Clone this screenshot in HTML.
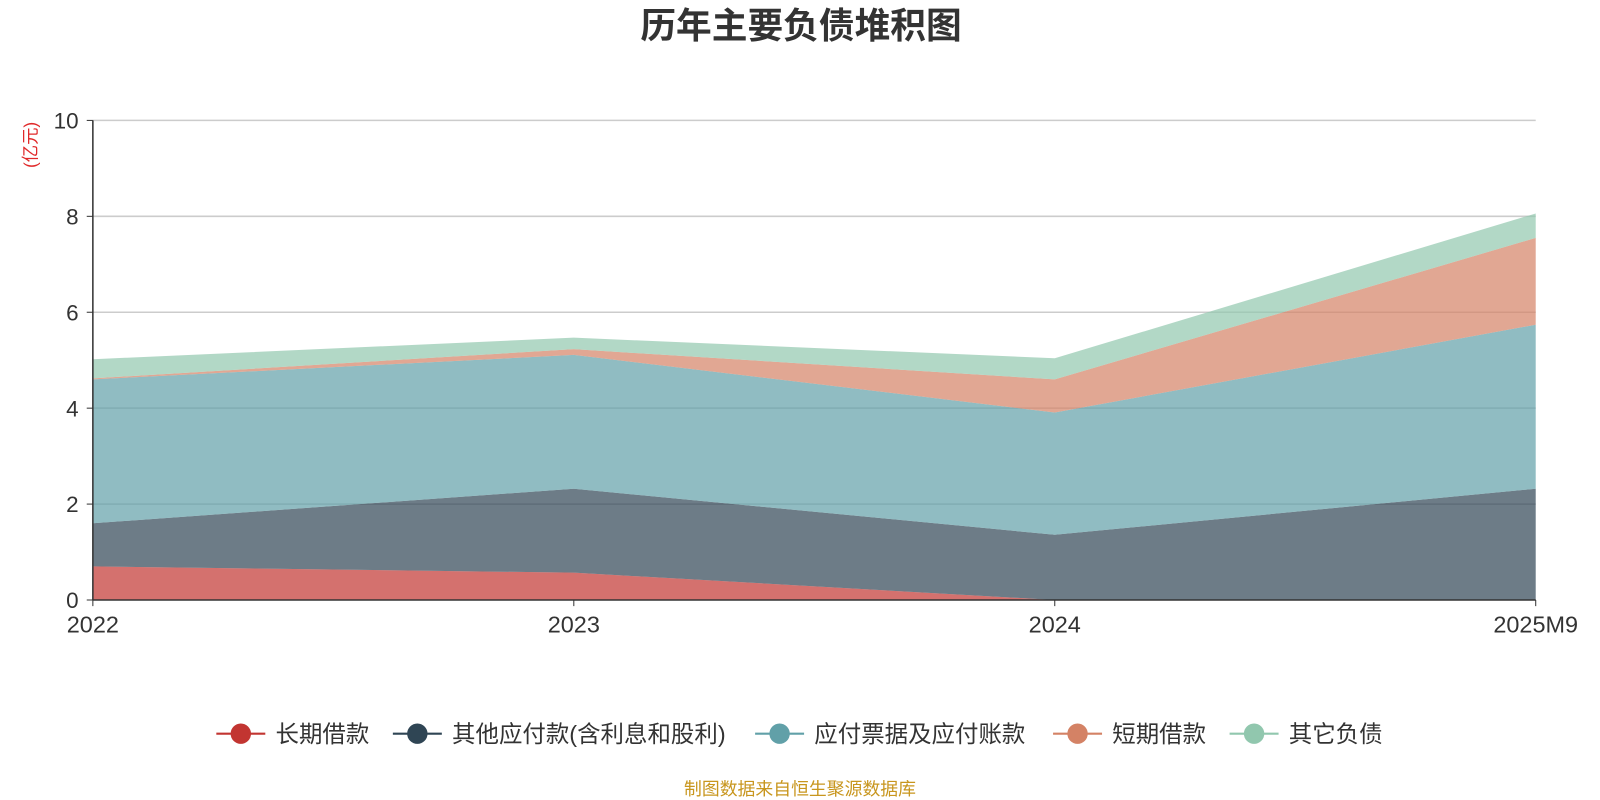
<!DOCTYPE html>
<html><head><meta charset="utf-8"><style>
html,body{margin:0;padding:0;background:#fff;overflow:hidden;font-family:"Liberation Sans","Noto Sans CJK SC",sans-serif;}
svg{display:block;}
svg text{font-family:"Liberation Sans","Noto Sans CJK SC",sans-serif;}
</style></head><body>
<svg id="c" width="1600" height="800" viewBox="0 0 1568 784" xmlns="http://www.w3.org/2000/svg">
<text x="785" y="37" text-anchor="middle" font-size="35" font-weight="bold" fill="#333">历年主要负债堆积图</text>
<text transform="translate(36,142) rotate(-90)" text-anchor="middle" font-size="17" fill="#e0292a">(亿元)</text>
<g id="grid"></g><g id="areas"></g><g id="axes"></g><g id="legend"></g>
<text x="784" y="779" text-anchor="middle" font-size="17.5" fill="#c8961e">制图数据来自恒生聚源数据库</text>
</svg>
<script>
const categories=["2022","2023","2024","2025M9"];
const seriesNames=["长期借款","其他应付款(含利息和股利)","应付票据及应付账款","短期借款","其它负债"];
const longLoan=[0.70,0.57,0,0];
const otherPayable=[0.90,1.75,1.36,2.32];
const payables=[3.00,2.79,2.55,3.42];
const shortLoan=[0.02,0.12,0.69,1.81];
const otherLiab=[0.40,0.24,0.44,0.51];
const yTicks=[0,2,4,6,8,10];
const colors=["#c23531","#2f4554","#61a0a8","#d48265","#91c7ae"];
const NS="http://www.w3.org/2000/svg";
const X0=91,X1=1505,Y0=588,Y1=118,YMAX=10;
const xs=i=>X0+(X1-X0)*i/(categories.length-1);
const ys=v=>Y0-(Y0-Y1)*v/YMAX;
function mk(t,a,p){const e=document.createElementNS(NS,t);for(const k in a)e.setAttribute(k,a[k]);p.appendChild(e);return e;}
const grid=document.getElementById('grid'),areas=document.getElementById('areas'),axes=document.getElementById('axes'),legend=document.getElementById('legend');
yTicks.forEach(t=>{
  if(t>0){const l=mk('line',{x1:X0,x2:X1,y1:ys(t),y2:ys(t),stroke:'#ccc','stroke-width':1.5},grid);
  
  }
  const tx=mk('text',{x:X0-14,y:ys(t)+8,'text-anchor':'end','font-size':22,fill:'#333'},axes);tx.textContent=t;
  
  
  mk('line',{x1:X0-6,x2:X0,y1:ys(t),y2:ys(t),stroke:'#333'},axes);
});
const all=[longLoan,otherPayable,payables,shortLoan,otherLiab];
let base=categories.map(()=>0);
all.forEach((s,k)=>{
  const top=base.map((b,i)=>b+s[i]);
  let d='M'+categories.map((c,i)=>xs(i)+','+ys(top[i])).join('L');
  for(let i=categories.length-1;i>=0;i--)d+='L'+xs(i)+','+ys(base[i]);
  const p=mk('path',{d:d+'Z',fill:colors[k],'fill-opacity':0.7},areas);
  
  
  base=top;
});
mk('line',{x1:X0,x2:X0,y1:Y1,y2:Y0,stroke:'#333','stroke-width':1.5},axes);
mk('line',{x1:X0,x2:X1,y1:Y0,y2:Y0,stroke:'#333','stroke-width':1.5},axes);
categories.forEach((c,i)=>{
  mk('line',{x1:xs(i),x2:xs(i),y1:Y0,y2:Y0+6,stroke:'#333'},axes);
  const t=mk('text',{x:xs(i),y:Y0+32,'text-anchor':'middle','font-size':23,fill:'#333'},axes);t.textContent=c;
  
  
});
const lx=[212,385,740,1032,1205];
seriesNames.forEach((n,k)=>{
  const g=mk('g',{},legend);
  
  
  mk('line',{x1:lx[k],x2:lx[k]+48,y1:719,y2:719,stroke:colors[k],'stroke-width':2},g);
  mk('circle',{cx:lx[k]+24,cy:719,r:10,fill:colors[k]},g);
  const t=mk('text',{x:lx[k]+58,y:727,'font-size':23,fill:'#333'},g);t.textContent=n;
});
</script>
</body></html>
